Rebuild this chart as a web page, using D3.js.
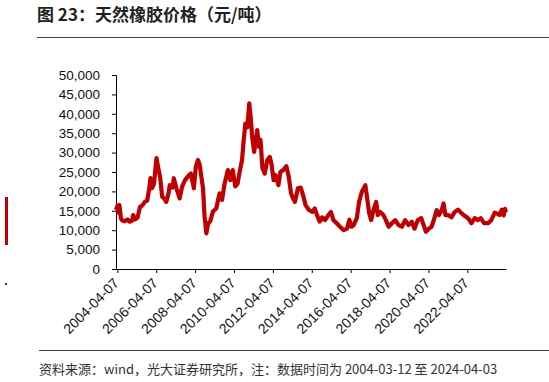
<!DOCTYPE html>
<html><head><meta charset="utf-8">
<script src="https://cdn.jsdelivr.net/npm/d3@7"></script>
<style>body{margin:0;background:#fff}svg{display:block}</style>
</head><body>
<script>
const title = "图 23：天然橡胶价格（元/吨）";
const footer = "资料来源：wind，光大证券研究所，注：数据时间为 2004-03-12 至 2024-04-03";
const yTicks = [0,5000,10000,15000,20000,25000,30000,35000,40000,45000,50000];
const xTickLabels = ["2004-04-07","2006-04-07","2008-04-07","2010-04-07","2012-04-07","2014-04-07","2016-04-07","2018-04-07","2020-04-07","2022-04-07"];
const dates = [
"2004-03-12","2004-04-09","2004-05-01","2004-05-15","2004-06-13","2004-07-09","2004-08-25","2004-10-12","2004-11-24",
"2005-01-05","2005-01-29","2005-03-03","2005-04-20","2005-06-06","2005-07-20","2005-09-05","2005-10-19","2005-11-24","2005-12-20",
"2006-01-18","2006-02-24","2006-04-12","2006-05-19","2006-06-21","2006-07-27","2006-09-05","2006-10-12","2006-11-24","2006-12-16",
"2007-02-06","2007-03-03","2007-04-20","2007-06-21","2007-08-07","2007-10-01","2007-12-13",
"2008-01-18","2008-03-14","2008-04-20","2008-05-30","2008-07-02","2008-08-01","2008-09-02","2008-10-01","2008-11-03","2008-12-05",
"2009-01-18","2009-03-07","2009-05-08","2009-07-09","2009-08-25","2009-10-12","2009-12-13",
"2010-01-29","2010-03-14","2010-05-01","2010-06-13","2010-07-16","2010-09-05","2010-10-01","2010-11-06","2010-12-13",
"2011-01-18","2011-02-13","2011-03-14","2011-04-20","2011-05-15","2011-06-17","2011-07-20","2011-08-18","2011-09-23","2011-11-06","2011-12-24",
"2012-02-09","2012-03-14","2012-04-20","2012-05-26","2012-07-20","2012-08-25","2012-10-19","2012-12-16",
"2013-01-29","2013-03-14","2013-04-20","2013-05-26","2013-07-20","2013-09-12","2013-10-26","2013-12-13",
"2014-02-13","2014-04-20","2014-06-02","2014-07-20","2014-09-02","2014-10-19","2014-12-13",
"2015-02-13","2015-04-01","2015-05-19","2015-07-20","2015-09-20","2015-11-28",
"2016-01-29","2016-03-14","2016-04-20","2016-06-02","2016-07-31","2016-09-12","2016-11-03",
"2017-01-08","2017-02-06","2017-03-21","2017-04-27","2017-06-10","2017-07-31","2017-08-29","2017-10-12","2017-12-13",
"2018-01-29","2018-03-21","2018-05-22","2018-07-23","2018-09-23","2018-11-24",
"2019-01-26","2019-03-29","2019-05-30","2019-07-20","2019-09-20","2019-11-24",
"2020-01-08","2020-02-20","2020-04-16","2020-06-06","2020-07-27","2020-09-09","2020-10-23","2020-12-13",
"2021-01-15","2021-02-20","2021-04-12","2021-06-13","2021-08-14","2021-10-15","2021-12-16",
"2022-02-16","2022-04-20","2022-06-24","2022-08-25","2022-10-26","2022-12-16",
"2023-02-16","2023-05-01","2023-07-02","2023-09-02","2023-10-19","2023-12-02",
"2024-01-15","2024-02-20","2024-03-15","2024-04-03"];
const prices = [
15200,16300,14500,16500,13000,12500,12300,12800,12200,
12400,13900,12800,13200,16000,16400,17300,17600,20500,23400,
20800,22000,28600,25700,23500,18600,18200,17300,19500,21600,
21000,23400,20800,18200,21300,22900,24200,
24600,20800,26400,28100,26800,23800,20800,13500,9200,11600,
12400,14800,15600,19500,17800,22000,25500,
22900,25500,21300,22000,24600,28100,32400,37500,36500,
42700,39300,34100,30200,32400,35800,31500,33300,26000,24600,28100,
28900,26800,22900,24200,21600,25000,25500,26500,
23800,19500,18200,17300,20800,21000,19000,16400,
15200,14700,15600,13700,12200,13300,12600,
13900,14700,12600,11800,10900,10000,
10400,12700,10900,11300,13100,17300,19900,
21600,18700,14300,12600,15200,17300,13900,14700,13900,
12600,10900,11800,12600,11300,10900,
12600,11300,12200,10400,12600,13100,
11300,9600,10400,10900,13100,15200,13900,15200,
16900,13900,13900,13300,14700,15300,14400,
13700,13100,11800,13100,12600,13100,
11800,11800,12600,14500,14300,13900,
15300,13800,15500,14600];

const W = 549, H = 382;
const parse = d3.timeParse("%Y-%m-%d");
const data = dates.map((d,i)=>({date:parse(d), value:prices[i]}));

const svg = d3.select("body").append("svg").attr("width",W).attr("height",H)
  .style("font-family","'Liberation Sans', Arial, sans-serif");

// decorations
svg.append("rect").attr("x",5).attr("y",197).attr("width",3).attr("height",48).attr("fill","#C00000");
svg.append("rect").attr("x",5).attr("y",283).attr("width",2).attr("height",2).attr("fill","#333");

svg.append("text").attr("x",37).attr("y",21)
  .style("font-family","'Noto Sans CJK SC', sans-serif").style("font-size","17px").style("font-weight","bold")
  .attr("fill","#222").text(title);
svg.append("line").attr("x1",37).attr("x2",549).attr("y1",37.5).attr("y2",37.5).attr("stroke","#444").attr("stroke-width",1);

svg.append("line").attr("x1",39).attr("x2",549).attr("y1",350.5).attr("y2",350.5).attr("stroke","#444").attr("stroke-width",1);
svg.append("text").attr("x",39).attr("y",374)
  .style("font-family","'Noto Sans CJK SC', sans-serif").style("font-size","13px")
  .attr("fill","#333").text(footer);

const x = d3.scaleTime().domain([parse("2004-03-12"), parse("2024-04-03")]).range([116, 506]);
const y = d3.scaleLinear().domain([0,50000]).range([269, 75]);

const yAxis = d3.axisLeft(y).tickValues(yTicks).tickSize(4).tickPadding(12)
  .tickFormat(d3.format(","));
const gy = svg.append("g").attr("transform","translate(116,0)").call(yAxis);
gy.selectAll("text").style("font-size","13.5px").attr("fill","#111");
gy.select(".domain").attr("stroke","#000");

const xTicks = xTickLabels.map(parse);
const xAxis = d3.axisBottom(x).tickValues(xTicks).tickSize(4).tickSizeOuter(0)
  .tickFormat(d3.timeFormat("%Y-%m-%d"));
const gx = svg.append("g").attr("transform","translate(0,269)").call(xAxis);
gx.selectAll("text").style("font-size","14px").attr("fill","#111")
  .attr("text-anchor","end").attr("dy","0").attr("y",0)
  .attr("transform","translate(2,15) rotate(-45)");
gx.select(".domain").attr("stroke","#000");

const line = d3.line().x(d=>x(d.date)).y(d=>y(d.value)).curve(d3.curveLinear);
svg.append("path").datum(data).attr("d",line).attr("fill","none")
  .attr("stroke","#C00000").attr("stroke-width",4.2).attr("stroke-linejoin","round");
</script>
</body></html>
